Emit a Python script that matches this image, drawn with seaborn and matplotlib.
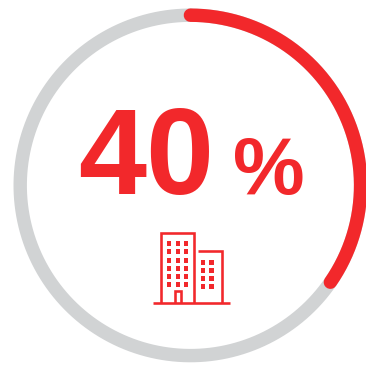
import numpy as np
import pandas as pd
import seaborn as sns
import matplotlib
matplotlib.use("Agg")
import matplotlib.pyplot as plt
from matplotlib.patches import Rectangle

# Gauge reading
share_value = [40]
share_label = ["40"]
unit_label = ["%"]

RED = "#F2282B"
GREY = "#D1D3D4"
W, H = 366, 365
CENTRE = (190.4, 185.4)
EXTENT = 180.0
RING_R = 170.2
RING_LW = 13.4 * 72 / 100
GAUGE_FULL_SCALE = 115.5  # value that would close the ring

sns.set_theme(style="white")
plt.rcParams["font.family"] = ["Liberation Sans", "DejaVu Sans"]

fig = plt.figure(figsize=(W / 100, H / 100), dpi=100, facecolor="white")

# Ring: polar axes whose radial unit is one pixel
ax = fig.add_axes(
    [(CENTRE[0] - EXTENT) / W, (H - CENTRE[1] - EXTENT) / H, 2 * EXTENT / W, 2 * EXTENT / H],
    projection="polar",
)
ax.set_theta_zero_location("N")
ax.set_theta_direction(-1)
ax.set_ylim(0, EXTENT)
ax.axis("off")


def arc_frame(fraction):
    theta = np.linspace(0, 2 * np.pi * fraction, 400)
    return pd.DataFrame({"theta": theta, "r": np.full_like(theta, RING_R)})


sns.lineplot(data=arc_frame(1.0), x="theta", y="r", color=GREY, linewidth=RING_LW,
             estimator=None, sort=False, ax=ax, clip_on=False)
sns.lineplot(data=arc_frame(share_value[0] / GAUGE_FULL_SCALE), x="theta", y="r", color=RED,
             linewidth=RING_LW, estimator=None, sort=False, ax=ax, clip_on=False,
             solid_capstyle="round")
ax.set_xlabel("")
ax.set_ylabel("")

# Overlay in pixel coordinates for the number and the building icon
ov = fig.add_axes([0, 0, 1, 1], facecolor="none")
ov.set_xlim(0, W)
ov.set_ylim(H, 0)
ov.axis("off")

ov.text(146.5, 194, share_label[0], color=RED, fontsize=88, fontweight="bold",
        ha="center", va="baseline")
ov.text(268.5, 194, unit_label[0], color=RED, fontsize=58, fontweight="bold",
        ha="center", va="baseline")

ICON_LW = 2.6 * 72 / 100
outline = dict(color=RED, lw=ICON_LW, solid_capstyle="butt", solid_joinstyle="miter")
ov.plot([153, 230], [302.5, 302.5], **outline)
ov.plot([160.5, 160.5, 193.5, 193.5], [302.5, 233, 233, 302.5], **outline)
ov.plot([198, 221.5, 221.5], [250.5, 250.5, 302.5], **outline)
ov.plot([174.5, 174.5, 181, 181], [302.5, 291, 291, 302.5], **outline)

for cx in (169, 178, 186):
    for cy in (243.3, 251.3, 260.3, 268.3, 276.3, 284.3):
        ov.add_patch(Rectangle((cx - 2, cy - 2.5), 4, 5, color=RED, lw=0))
for cx, w in ((203, 4), (211.3, 5)):
    for cy in (262.3, 270.3, 278.3, 286.7):
        ov.add_patch(Rectangle((cx - w / 2, cy - 2.5), w, 5, color=RED, lw=0))

fig.savefig("out.png", dpi=100)
